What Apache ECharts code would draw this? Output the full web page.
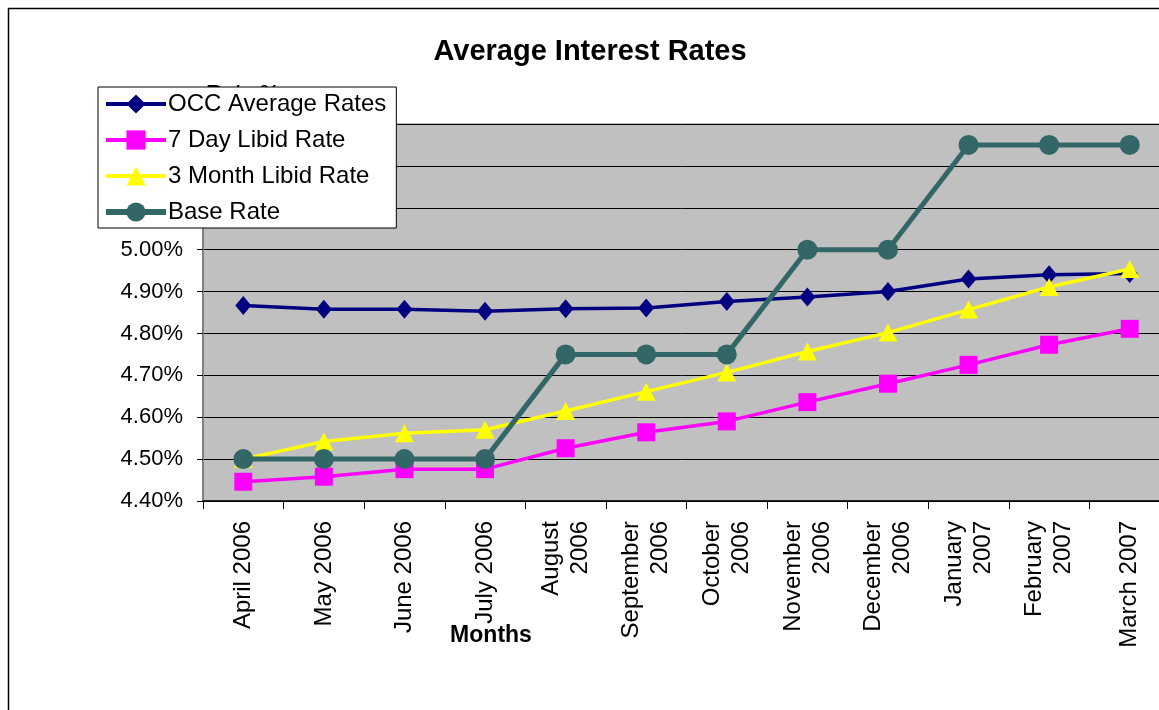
<!DOCTYPE html>
<html>
<head>
<meta charset="utf-8">
<title>Average Interest Rates</title>
<script src="https://cdn.jsdelivr.net/npm/echarts@6/dist/echarts.min.js"></script>
<style>
  html, body { margin: 0; padding: 0; background: #fff; }
  #chart { width: 1159px; height: 710px; }
</style>
</head>
<body>
<div id="chart"></div>
<script>
// months on the x axis
const months = [
  'April 2006', 'May 2006', 'June 2006', 'July 2006', 'August\n2006', 'September\n2006',
  'October\n2006', 'November\n2006', 'December\n2006', 'January\n2007', 'February\n2007', 'March 2007'
];

// rates in %
const occAverage = [4.867, 4.858, 4.858, 4.853, 4.859, 4.861, 4.876, 4.887, 4.900, 4.930, 4.940, 4.943];
const sevenDayLibid = [4.446, 4.458, 4.476, 4.476, 4.526, 4.564, 4.590, 4.636, 4.680, 4.725, 4.773, 4.811];
const threeMonthLibid = [4.500, 4.542, 4.562, 4.570, 4.615, 4.661, 4.707, 4.757, 4.802, 4.857, 4.911, 4.954];
const baseRate = [4.50, 4.50, 4.50, 4.50, 4.75, 4.75, 4.75, 5.00, 5.00, 5.25, 5.25, 5.25];

const yMin = 4.40, yMax = 5.30, yStep = 0.10;

const font = 'Liberation Sans, Arial, sans-serif';

let myChart = echarts.init(document.getElementById('chart'));

myChart.setOption({
  animation: false,
  backgroundColor: '#fff',
  textStyle: { fontFamily: font },
  graphic: [{
    type: 'rect',
    z: -10,
    shape: { x: 8.5, y: 8.5, width: 1300, height: 900 },
    style: { fill: 'none', stroke: '#000', lineWidth: 1.5 }
  }],
  title: [
    {
      text: 'Average Interest Rates',
      left: 585, top: 32, textAlign: 'center',
      textStyle: { fontSize: 29, fontWeight: 'bold', color: '#000', fontFamily: font }
    },
    {
      text: 'Rate %',
      left: 238, top: 78, textAlign: 'center', z: 1,
      textStyle: { fontSize: 22, fontWeight: 'bold', color: '#000', fontFamily: font }
    },
    {
      text: 'Months',
      left: 486, top: 619, textAlign: 'center',
      textStyle: { fontSize: 23, fontWeight: 'bold', color: '#000', fontFamily: font }
    }
  ],
  legend: {
    orient: 'vertical',
    left: 98, top: 87,
    padding: [5, 10, 4, 5],
    itemWidth: 60, itemHeight: 24, itemGap: 12,
    backgroundColor: '#fff',
    borderColor: '#000', borderWidth: 1,
    z: 10,
    textStyle: { fontSize: 24, color: '#000', fontFamily: font, padding: [0, 0, 0, -3] },
    data: [
      { name: 'OCC Average Rates', lineStyle: { width: 4 } },
      { name: '7 Day Libid Rate', lineStyle: { width: 4 } },
      { name: '3 Month Libid Rate', lineStyle: { width: 4 } },
      { name: 'Base Rate', lineStyle: { width: 6 } }
    ]
  },
  grid: {
    left: 203, top: 124, width: 967, bottom: 209,
    containLabel: false,
    outerBoundsMode: 'none',
    show: true,
    backgroundColor: '#C0C0C0',
    borderColor: '#808080', borderWidth: 1
  },
  xAxis: {
    type: 'category',
    data: months,
    boundaryGap: true,
    axisLine: { lineStyle: { color: '#000', width: 1.5 } },
    axisTick: { show: true, length: 8, lineStyle: { color: '#000' } },
    axisLabel: {
      rotate: 90, margin: 20, interval: 0,
      fontSize: 24, color: '#000', fontFamily: font, lineHeight: 29
    }
  },
  yAxis: {
    type: 'value',
    min: yMin, max: yMax, interval: yStep,
    axisLine: { show: true, lineStyle: { color: '#808080', width: 2 } },
    axisTick: { show: true, length: 6, lineStyle: { color: '#000' } },
    axisLabel: {
      margin: 20, fontSize: 22, color: '#000', fontFamily: font,
      formatter: v => v.toFixed(2) + '%'
    },
    splitLine: { show: true, lineStyle: { color: '#000', width: 1 } }
  },
  series: [
    {
      name: 'OCC Average Rates', type: 'line', data: occAverage,
      symbol: 'diamond', symbolSize: [16, 19], z: 3,
      lineStyle: { color: '#000080', width: 3.5 },
      itemStyle: { color: '#000080' }
    },
    {
      name: '7 Day Libid Rate', type: 'line', data: sevenDayLibid,
      symbol: 'rect', symbolSize: 18, z: 4,
      lineStyle: { color: '#FF00FF', width: 3.5 },
      itemStyle: { color: '#FF00FF' }
    },
    {
      name: '3 Month Libid Rate', type: 'line', data: threeMonthLibid,
      symbol: 'triangle', symbolSize: [19, 18], z: 5,
      lineStyle: { color: '#FFFF00', width: 3.5 },
      itemStyle: { color: '#FFFF00' }
    },
    {
      name: 'Base Rate', type: 'line', data: baseRate,
      symbol: 'circle', symbolSize: 20, z: 6,
      lineStyle: { color: '#336666', width: 5 },
      itemStyle: { color: '#336666' }
    }
  ]
});
</script>
</body>
</html>
